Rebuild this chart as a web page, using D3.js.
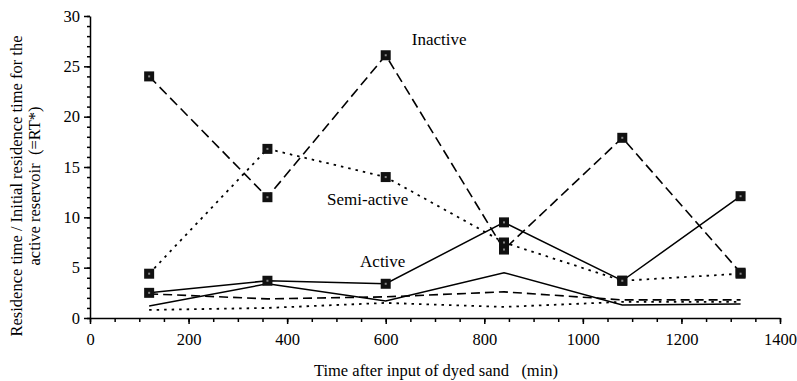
<!DOCTYPE html>
<html>
<head>
<meta charset="utf-8">
<script src="https://cdn.jsdelivr.net/npm/d3@7"></script>
<style>
  body { margin: 0; background: #fff; }
  svg { display: block; }
  .axis path, .axis line { stroke: #000; stroke-width: 1.5; }
  .lbl { font-family: "Liberation Serif", "DejaVu Serif", serif; font-size: 17px; fill: #000; white-space: pre; }
</style>
</head>
<body>
<div id="chart"></div>
<script>
// sampling times (min)
var times = [120, 360, 600, 840, 1080, 1320];

// series with markers (RT*)
var inactive   = [24.0, 12.0, 26.1, 6.8, 17.9, 4.5];
var semiActive = [4.4, 16.8, 14.0, 7.5, 3.7, 4.4];
var active     = [2.5, 3.7, 3.4, 9.5, 3.7, 12.1];

// series without markers
var activeB     = [1.2, 3.4, 1.7, 4.5, 1.3, 1.4];
var inactiveB   = [2.4, 1.9, 2.1, 2.6, 1.8, 1.8];
var semiActiveB = [0.8, 1.0, 1.5, 1.1, 1.6, 1.6];

var xTicks = [0, 200, 400, 600, 800, 1000, 1200, 1400];
var yTicks = [0, 5, 10, 15, 20, 25, 30];

var W = 797, H = 381;
var margin = {top: 16, right: 17, bottom: 63, left: 90},
    width = W - margin.left - margin.right,
    height = H - margin.top - margin.bottom;

var serif = "'Liberation Serif', 'DejaVu Serif', serif";

var svg = d3.select("#chart").append("svg")
    .attr("width", W)
    .attr("height", H);

var g = svg.append("g")
    .attr("transform", "translate(" + margin.left + "," + margin.top + ")");

var x = d3.scaleLinear().domain([0, 1400]).range([0, width]);
var y = d3.scaleLinear().domain([0, 30]).range([height, 0]);

/* minor ticks first */
g.append("g")
    .attr("class", "axis")
    .attr("transform", "translate(0," + height + ")")
    .call(d3.axisBottom(x).tickValues(d3.range(0, 1401, 50)).tickSize(4).tickFormat(""))
    .select(".domain").remove();

g.append("g")
    .attr("class", "axis")
    .call(d3.axisLeft(y).tickValues(d3.range(0, 31, 1)).tickSize(3).tickFormat(""))
    .select(".domain").remove();

/* major axes */
g.append("g")
    .attr("class", "axis")
    .attr("transform", "translate(0," + height + ")")
    .call(d3.axisBottom(x).tickValues(xTicks).tickFormat(d3.format("d"))
        .tickSizeInner(6).tickSizeOuter(0).tickPadding(9))
    .attr("font-family", serif)
    .attr("font-size", 16.5);

g.append("g")
    .attr("class", "axis")
    .call(d3.axisLeft(y).tickValues(yTicks).tickFormat(d3.format("d"))
        .tickSizeInner(6).tickSizeOuter(0).tickPadding(4))
    .attr("font-family", serif)
    .attr("font-size", 16.5);

g.selectAll(".axis text").attr("fill", "#000");

var line = d3.line()
    .x(function (d) { return x(d[0]); })
    .y(function (d) { return y(d[1]); });

function pairs(vals) {
    return times.map(function (t, i) { return [t, vals[i]]; });
}

var series = [
    {vals: activeB,     dash: null,    w: 1.5, marks: false},
    {vals: inactiveB,   dash: "9,5",   w: 1.6, marks: false},
    {vals: semiActiveB, dash: "2.5,5", w: 1.8, marks: false},
    {vals: inactive,    dash: "10,5",  w: 1.6, marks: true},
    {vals: semiActive,  dash: "2.5,5", w: 1.8, marks: true},
    {vals: active,      dash: null,    w: 1.5, marks: true}
];

series.forEach(function (s) {
    g.append("path")
        .datum(pairs(s.vals))
        .attr("fill", "none")
        .attr("stroke", "#000")
        .attr("stroke-width", s.w)
        .attr("stroke-dasharray", s.dash)
        .attr("d", line);
});

// square markers
series.filter(function (s) { return s.marks; }).forEach(function (s) {
    var m = g.append("g").selectAll("g")
        .data(pairs(s.vals))
        .enter().append("g")
        .attr("transform", function (d) { return "translate(" + x(d[0]) + "," + y(d[1]) + ")"; });
    m.append("rect")
        .attr("x", -5).attr("y", -5)
        .attr("width", 10).attr("height", 10)
        .attr("fill", "#111");
    m.append("rect")
        .attr("x", -1).attr("y", -1)
        .attr("width", 2).attr("height", 2)
        .attr("fill", "#888");
});

// series labels
g.append("text").attr("class", "lbl")
    .attr("x", x(653)).attr("y", y(27.1))
    .text("Inactive");
g.append("text").attr("class", "lbl")
    .attr("x", x(481)).attr("y", y(11.2))
    .text("Semi-active");
g.append("text").attr("class", "lbl")
    .attr("x", x(548)).attr("y", y(5.06))
    .text("Active");

// axis titles
svg.append("text").attr("class", "lbl")
    .attr("x", 436).attr("y", 376)
    .attr("text-anchor", "middle")
    .style("font-size", "16.5px")
    .text("Time after input of dyed sand   (min)");

var yt = svg.append("text").attr("class", "lbl")
    .attr("transform", "translate(22,186) rotate(-90)")
    .attr("text-anchor", "middle")
    .style("font-size", "16.5px");
yt.append("tspan").attr("x", 0).attr("y", 0)
    .text("Residence time / Initial residence time for the");
yt.append("tspan").attr("x", 0).attr("y", 18)
    .text("active reservoir  (=RT*)");
</script>
</body>
</html>
